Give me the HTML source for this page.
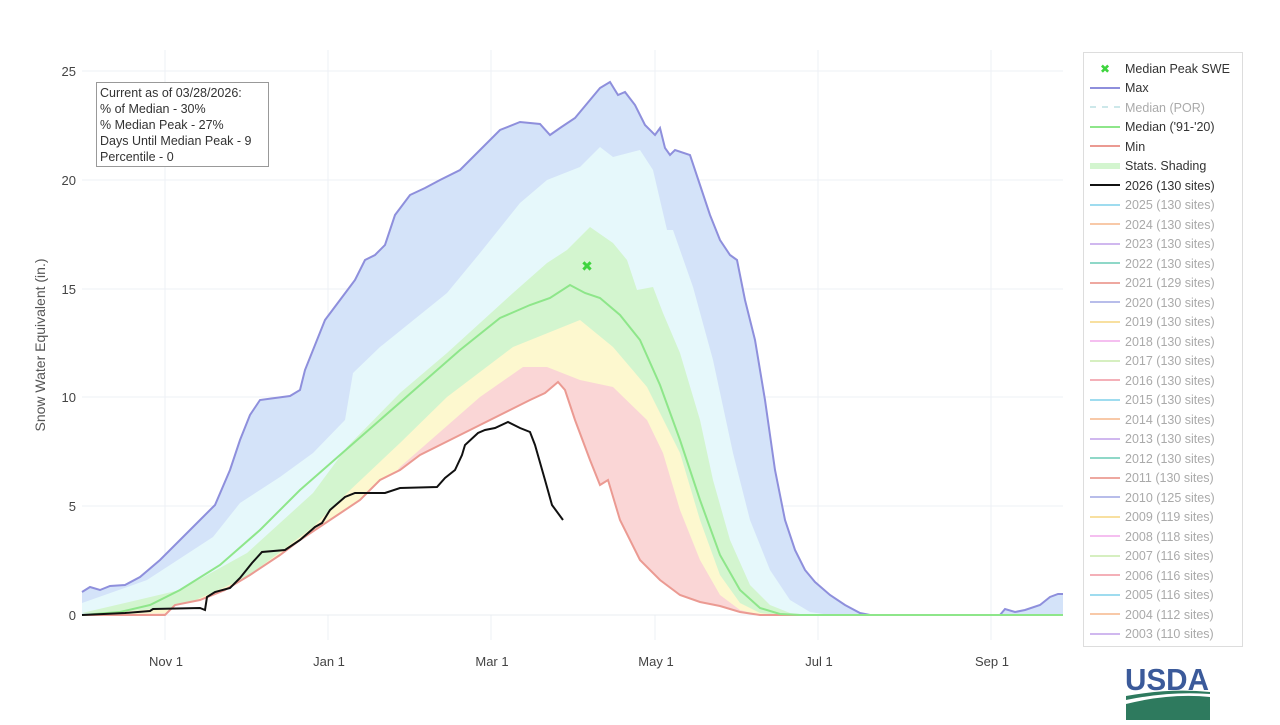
<!DOCTYPE html>
<html><head><meta charset="utf-8"><style>
body{margin:0;background:#fff;}
svg text{font-family:"Liberation Sans","DejaVu Sans",sans-serif;}
</style></head><body>
<svg width="1280" height="720" viewBox="0 0 1280 720" xmlns="http://www.w3.org/2000/svg">
<rect width="1280" height="720" fill="#fff"/>
<g stroke="#eef1f5" stroke-width="1">
<line x1="82" y1="71" x2="1063" y2="71"/><line x1="82" y1="180" x2="1063" y2="180"/>
<line x1="82" y1="289" x2="1063" y2="289"/><line x1="82" y1="397" x2="1063" y2="397"/>
<line x1="82" y1="506" x2="1063" y2="506"/>
<line x1="165" y1="50" x2="165" y2="640"/><line x1="328" y1="50" x2="328" y2="640"/>
<line x1="491" y1="50" x2="491" y2="640"/><line x1="655" y1="50" x2="655" y2="640"/>
<line x1="818" y1="50" x2="818" y2="640"/><line x1="991" y1="50" x2="991" y2="640"/>
</g>
<polygon fill="#d4e3f9" points="82,592 90,587 100,590 110,586 125,585 140,577 160,560 180,540 200,520 215,505 230,470 240,440 250,415 260,400 275,398 290,396 300,390 305,370 315,345 325,320 340,300 355,280 365,260 375,255 385,245 395,215 410,195 425,188 440,180 460,170 480,150 500,130 520,122 540,124 550,135 560,128 575,118 590,100 600,88 610,82 618,95 625,92 635,105 645,125 655,135 660,128 665,148 670,155 675,150 690,155 700,185 710,215 720,240 730,255 737,260 745,300 755,340 765,400 775,470 785,520 795,550 805,570 815,582 830,595 845,605 860,613 870,615 1000,615 1005,609 1015,612 1025,610 1040,605 1050,597 1058,594 1063,594 1063,615 82,615"/>
<polygon fill="#e6f8fb" points="82,603 147,580 213,537 240,503 280,477 313,453 345,420 353,373 380,347 447,293 480,253 520,203 547,180 580,167 600,147 613,157 640,150 653,170 667,230 673,230 693,287 713,360 733,453 750,520 770,570 790,600 810,612 830,615 82,615"/>
<polygon fill="#d3f5cf" points="82,613 180,590 247,553 313,493 347,447 400,393 447,353 513,293 547,263 567,250 590,227 613,243 627,260 637,290 653,287 663,313 680,353 700,420 713,480 730,540 750,585 770,605 790,613 810,615"/>
<polygon fill="#fdf8cf" points="82,615 180,607 247,577 313,527 347,493 400,443 447,397 513,347 580,320 613,347 647,387 680,453 700,520 720,575 740,603 760,613 780,615"/>
<polygon fill="#fad6d6" points="82,615 180,613 280,577 347,533 400,467 480,397 523,367 547,367 580,380 613,387 647,420 663,453 680,510 700,560 720,595 740,610 760,615"/>
<polygon fill="#ffffff" points="82,615 165,615 175,605 200,600 225,590 250,575 280,555 300,540 330,520 360,500 380,480 400,470 420,455 440,445 460,435 480,425 510,410 530,400 545,393 558,382 565,390 575,420 590,460 600,485 608,480 620,520 640,560 660,580 680,595 700,602 720,606 740,612 760,615"/>
<line x1="82" y1="615" x2="1063" y2="615" stroke="#e8ecf0"/>
<polyline fill="none" stroke="#8e8fdc" stroke-width="2" points="82,592 90,587 100,590 110,586 125,585 140,577 160,560 180,540 200,520 215,505 230,470 240,440 250,415 260,400 275,398 290,396 300,390 305,370 315,345 325,320 340,300 355,280 365,260 375,255 385,245 395,215 410,195 425,188 440,180 460,170 480,150 500,130 520,122 540,124 550,135 560,128 575,118 590,100 600,88 610,82 618,95 625,92 635,105 645,125 655,135 660,128 665,148 670,155 675,150 690,155 700,185 710,215 720,240 730,255 737,260 745,300 755,340 765,400 775,470 785,520 795,550 805,570 815,582 830,595 845,605 860,613 870,615 1000,615 1005,609 1015,612 1025,610 1040,605 1050,597 1058,594 1063,594"/>
<polyline fill="none" stroke="#eb9a92" stroke-width="2" points="82,615 165,615 175,605 200,600 225,590 250,575 280,555 300,540 330,520 360,500 380,480 400,470 420,455 440,445 460,435 480,425 510,410 530,400 545,393 558,382 565,390 575,420 590,460 600,485 608,480 620,520 640,560 660,580 680,595 700,602 720,606 740,612 760,615 1063,615"/>
<polyline fill="none" stroke="#8ee68a" stroke-width="2" points="82,615 120,612 150,605 180,590 220,565 260,530 300,490 340,455 380,420 420,385 460,350 500,318 530,305 550,298 570,285 585,293 600,298 620,315 640,340 660,385 680,440 700,500 720,555 740,590 760,608 780,614 800,615 1063,615"/>
<polyline fill="none" stroke="#111" stroke-width="2" points="82,615 125,613 150,611 153,609 200,608 205,610 207,597 215,592 230,588 240,578 252,563 262,552 285,550 300,540 315,527 322,523 330,510 345,497 355,493 385,493 400,488 437,487 445,478 455,470 462,455 465,445 478,433 485,430 495,428 508,422 520,428 530,432 535,445 545,480 552,505 563,520"/>
<text x="587" y="271" font-size="14" font-weight="bold" fill="#3ed43e" text-anchor="middle">✖</text>
<g font-size="13" fill="#444" text-anchor="end">
<text x="76" y="76">25</text><text x="76" y="185">20</text><text x="76" y="294">15</text>
<text x="76" y="402">10</text><text x="76" y="511">5</text><text x="76" y="620">0</text>
</g>
<g font-size="13" fill="#444" text-anchor="middle">
<text x="166" y="666">Nov 1</text><text x="329" y="666">Jan 1</text><text x="492" y="666">Mar 1</text>
<text x="656" y="666">May 1</text><text x="819" y="666">Jul 1</text><text x="992" y="666">Sep 1</text>
</g>
<text transform="translate(45,345) rotate(-90)" font-size="14" fill="#555" text-anchor="middle">Snow Water Equivalent (in.)</text>
<rect x="96.5" y="82.5" width="172" height="84" fill="#fff" stroke="#999"/>
<g font-size="12.5" fill="#333">
<text x="100" y="97">Current as of 03/28/2026:</text>
<text x="100" y="113">% of Median - 30%</text>
<text x="100" y="129">% Median Peak - 27%</text>
<text x="100" y="145">Days Until Median Peak - 9</text>
<text x="100" y="161">Percentile - 0</text>
</g>
<rect x="1083.5" y="52.5" width="159" height="594" fill="#fff" stroke="#ddd"/>
<g font-size="12.5">
<text x="1105" y="73" font-size="12" font-weight="bold" fill="#3ed43e" text-anchor="middle">✖</text>
<text x="1125" y="73" fill="#333">Median Peak SWE</text>
<line x1="1090" y1="88" x2="1120" y2="88" stroke="#8e8fdc" stroke-width="2"/><text x="1125" y="92" fill="#333">Max</text>
<line x1="1090" y1="107" x2="1120" y2="107" stroke="#cde8ea" stroke-width="2" stroke-dasharray="6,6"/><text x="1125" y="112" fill="#aaa">Median (POR)</text>
<line x1="1090" y1="127" x2="1120" y2="127" stroke="#8ee68a" stroke-width="2"/><text x="1125" y="131" fill="#333">Median ('91-'20)</text>
<line x1="1090" y1="146" x2="1120" y2="146" stroke="#eb9a92" stroke-width="2"/><text x="1125" y="151" fill="#333">Min</text>
<line x1="1090" y1="166" x2="1120" y2="166" stroke="#d3f5cf" stroke-width="6"/><text x="1125" y="170" fill="#333">Stats. Shading</text>
<line x1="1090" y1="185" x2="1120" y2="185" stroke="#111" stroke-width="2"/><text x="1125" y="190" fill="#333">2026 (130 sites)</text>
</g>
<g font-size="12.5" fill="#aaa">
<line x1="1090" y1="205" x2="1120" y2="205" stroke="#9fdcef" stroke-width="2"/><text x="1125" y="209">2025 (130 sites)</text>
<line x1="1090" y1="224" x2="1120" y2="224" stroke="#f8c9a8" stroke-width="2"/><text x="1125" y="229">2024 (130 sites)</text>
<line x1="1090" y1="244" x2="1120" y2="244" stroke="#d0b8ef" stroke-width="2"/><text x="1125" y="248">2023 (130 sites)</text>
<line x1="1090" y1="263" x2="1120" y2="263" stroke="#8fd8c8" stroke-width="2"/><text x="1125" y="268">2022 (130 sites)</text>
<line x1="1090" y1="283" x2="1120" y2="283" stroke="#eea8a0" stroke-width="2"/><text x="1125" y="287">2021 (129 sites)</text>
<line x1="1090" y1="302" x2="1120" y2="302" stroke="#b8bdea" stroke-width="2"/><text x="1125" y="307">2020 (130 sites)</text>
<line x1="1090" y1="322" x2="1120" y2="322" stroke="#f8e0a0" stroke-width="2"/><text x="1125" y="326">2019 (130 sites)</text>
<line x1="1090" y1="341" x2="1120" y2="341" stroke="#f5bff0" stroke-width="2"/><text x="1125" y="346">2018 (130 sites)</text>
<line x1="1090" y1="361" x2="1120" y2="361" stroke="#d6efc0" stroke-width="2"/><text x="1125" y="365">2017 (130 sites)</text>
<line x1="1090" y1="380" x2="1120" y2="380" stroke="#f4b0b8" stroke-width="2"/><text x="1125" y="385">2016 (130 sites)</text>
<line x1="1090" y1="400" x2="1120" y2="400" stroke="#9fdcef" stroke-width="2"/><text x="1125" y="404">2015 (130 sites)</text>
<line x1="1090" y1="419" x2="1120" y2="419" stroke="#f8c9a8" stroke-width="2"/><text x="1125" y="424">2014 (130 sites)</text>
<line x1="1090" y1="439" x2="1120" y2="439" stroke="#d0b8ef" stroke-width="2"/><text x="1125" y="443">2013 (130 sites)</text>
<line x1="1090" y1="458" x2="1120" y2="458" stroke="#8fd8c8" stroke-width="2"/><text x="1125" y="463">2012 (130 sites)</text>
<line x1="1090" y1="478" x2="1120" y2="478" stroke="#eea8a0" stroke-width="2"/><text x="1125" y="482">2011 (130 sites)</text>
<line x1="1090" y1="497" x2="1120" y2="497" stroke="#b8bdea" stroke-width="2"/><text x="1125" y="502">2010 (125 sites)</text>
<line x1="1090" y1="517" x2="1120" y2="517" stroke="#f8e0a0" stroke-width="2"/><text x="1125" y="521">2009 (119 sites)</text>
<line x1="1090" y1="536" x2="1120" y2="536" stroke="#f5bff0" stroke-width="2"/><text x="1125" y="541">2008 (118 sites)</text>
<line x1="1090" y1="556" x2="1120" y2="556" stroke="#d6efc0" stroke-width="2"/><text x="1125" y="560">2007 (116 sites)</text>
<line x1="1090" y1="575" x2="1120" y2="575" stroke="#f4b0b8" stroke-width="2"/><text x="1125" y="580">2006 (116 sites)</text>
<line x1="1090" y1="595" x2="1120" y2="595" stroke="#9fdcef" stroke-width="2"/><text x="1125" y="599">2005 (116 sites)</text>
<line x1="1090" y1="614" x2="1120" y2="614" stroke="#f8c9a8" stroke-width="2"/><text x="1125" y="619">2004 (112 sites)</text>
<line x1="1090" y1="634" x2="1120" y2="634" stroke="#d0b8ef" stroke-width="2"/><text x="1125" y="638">2003 (110 sites)</text>
</g>
<text x="1167" y="690" font-size="31" font-weight="bold" fill="#3b5a9a" text-anchor="middle" font-family="Liberation Serif,serif" textLength="84" lengthAdjust="spacingAndGlyphs">USDA</text>
<path d="M1126,696 Q1170,688 1210,692 L1210,694 Q1170,691 1126,700 Z" fill="#2e7a5e"/>
<path d="M1126,704 Q1170,693 1210,697 L1210,720 L1126,720 Z" fill="#2e7a5e"/>
</svg>
</body></html>
